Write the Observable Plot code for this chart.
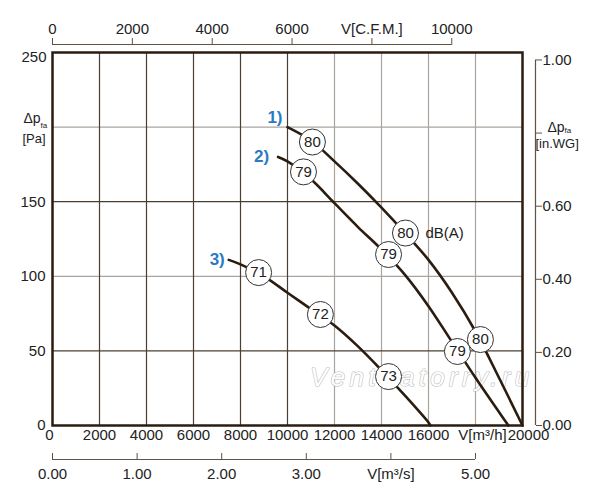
<!DOCTYPE html>
<html><head><meta charset="utf-8">
<script src="https://cdn.jsdelivr.net/npm/d3@7"></script>
<script src="https://cdn.jsdelivr.net/npm/@observablehq/plot@0.6"></script>
<style>body{margin:0;background:#fff} #chart{width:600px;height:500px}</style>
</head><body><div id="chart"></div>
<script>
// ---- data ----
const curve1Flow = [10000, 11000, 12000, 13000, 14000, 15000, 16000, 17000, 18000, 19000, 20000];
const curve1Pa   = [200, 191, 177, 162, 146, 129, 111, 89, 63, 32, 0];
const curve2Flow = [9600, 10000, 11000, 12000, 13000, 14000, 15000, 16000, 17000, 18000, 19000, 19400];
const curve2Pa   = [180, 177, 165, 149, 133, 118, 101, 80, 56, 32, 9, 0];
const curve3Flow = [7500, 8000, 9000, 10000, 11000, 12000, 13000, 14000, 15000, 16000, 16080];
const curve3Pa   = [111, 108, 100, 89, 78, 67, 53, 37, 20, 2, 0];

const db1Flow = [11060, 15020, 18210], db1Pa = [190, 129, 57.6], db1Val = [80, 80, 80];
const db2Flow = [10680, 14300, 17230], db2Pa = [170, 114.6, 49.6], db2Val = [79, 79, 79];
const db3Flow = [8770, 11400, 14300],  db3Pa = [102.5, 74.4, 32.8], db3Val = [71, 72, 73];
const seriesNames = ["1)", "2)", "3)"];

const flowTicks = [0, 2000, 4000, 6000, 8000, 10000, 12000, 14000, 16000];
const flowUnitTick = 18000, flowUnitLabel = "V[m³/h]", flowEndTick = 20000;
const paTicks = [150, 100, 50, 0];
const paTop = 250, paUnitTick = 200;
const cfmTicks = [0, 2000, 4000, 6000, 8000, 10000];
const cfmLabels = ["0", "2000", "4000", "6000", "V[C.F.M.]", "10000"];
const m3sTicks = [0, 1, 2, 3, 4, 5];
const m3sLabels = ["0.00", "1.00", "2.00", "3.00", "V[m³/s]", "5.00"];
const inwgTicks = [0, 0.2, 0.4, 0.6, 0.8, 1.0];
const inwgLabels = ["0.00", "0.20", "0.40", "0.60", "", "1.00"];
const gridDarkX = [2000, 4000, 6000, 8000, 10000];
const gridLightX = [12000, 14000, 16000, 18000];
const gridDarkY = [50, 150];
const gridLightY = [100, 200];

const M3H_PER_CFM = 1.699, M3H_PER_M3S = 3600, PA_PER_INWG = 245;

// ---- build ----
const pts = (xs, ys) => xs.map((x, i) => ({x, y: ys[i]}));
const lab = (xs, ys, vs) => xs.map((x, i) => ({x, y: ys[i], v: vs[i]}));
const s1 = pts(curve1Flow, curve1Pa), s2 = pts(curve2Flow, curve2Pa), s3 = pts(curve3Flow, curve3Pa);
const dbs = [...lab(db1Flow, db1Pa, db1Val), ...lab(db2Flow, db2Pa, db2Val), ...lab(db3Flow, db3Pa, db3Val)];
const cfmPos = cfmTicks.map(c => c * M3H_PER_CFM);
const cfmMap = new Map(cfmPos.map((p, i) => [p, cfmLabels[i]]));
const m3sPos = m3sTicks.map(s => s * M3H_PER_M3S);
const m3sMap = new Map(m3sPos.map((p, i) => [p, m3sLabels[i]]));
const inwgPos = inwgTicks.map(v => v * PA_PER_INWG);
const inwgMap = new Map(inwgPos.map((p, i) => [p, inwgLabels[i]]));

const DARK = "#2a1d10", AX = "#5e5246", TXT = "#222";
const blue = "#2b7bc4";
const str = d => String(d);

const chart = Plot.plot({
  width: 600, height: 500,
  marginLeft: 52, marginRight: 78, marginTop: 52, marginBottom: 75,
  x: {domain: [0, 20000], axis: null},
  y: {domain: [0, 250], axis: null},
  style: {fontFamily: "'Liberation Sans', Arial, sans-serif", color: TXT, background: "white", overflow: "visible"},
  marks: [
    Plot.ruleX(gridLightX, {stroke: "#a9a49d", strokeWidth: 1.2}),
    Plot.ruleY(gridLightY, {stroke: "#a9a49d", strokeWidth: 1.2}),
    Plot.ruleX(gridDarkX, {stroke: "#4a3e32", strokeWidth: 1.2}),
    Plot.ruleY(gridDarkY, {stroke: "#4a3e32", strokeWidth: 1.2}),
    Plot.text(["Ventilatorry.ru"], {frameAnchor: "bottom-right", textAnchor: "end", dx: 11, dy: -40,
      fontSize: 26, fontStyle: "italic", fill: "white", stroke: "#bdbdbd", strokeWidth: 1.2}),
    Plot.line(s1, {x: "x", y: "y", curve: "catmull-rom", stroke: DARK, strokeWidth: 2.6}),
    Plot.line(s2, {x: "x", y: "y", curve: "catmull-rom", stroke: DARK, strokeWidth: 2.6}),
    Plot.line(s3, {x: "x", y: "y", curve: "catmull-rom", stroke: DARK, strokeWidth: 2.6}),
    Plot.frame({stroke: DARK, strokeWidth: 2.5}),
    Plot.dot(dbs, {x: "x", y: "y", r: 13, fill: "white", stroke: "#333", strokeWidth: 1}),
    Plot.text(dbs, {x: "x", y: "y", text: d => String(d.v), fontSize: 15, fill: TXT}),
    Plot.text([db1Val[1]], {x: db1Flow[1], y: db1Pa[1], text: () => "dB(A)", textAnchor: "start", dx: 20, fontSize: 15, fill: TXT}),
    // series labels
    Plot.text([seriesNames[0]], {x: curve1Flow[0], y: curve1Pa[0], textAnchor: "end", dx: -5, dy: -10, fontSize: 17, fontWeight: "bold", fill: blue}),
    Plot.text([seriesNames[1]], {x: curve2Flow[0], y: curve2Pa[0], textAnchor: "end", dx: -9, dy: 0, fontSize: 17, fontWeight: "bold", fill: blue}),
    Plot.text([seriesNames[2]], {x: curve3Flow[0], y: curve3Pa[0], textAnchor: "end", dx: -4, dy: 0, fontSize: 17, fontWeight: "bold", fill: blue}),
    // bottom m3/h labels
    Plot.text(flowTicks.slice(1), {x: d => d, text: str, frameAnchor: "bottom", dy: 14, fontSize: 15, fill: TXT}),
    Plot.text(flowTicks.slice(0, 1), {x: d => d, text: str, frameAnchor: "bottom", dy: 14, dx: -3, fontSize: 15, fill: TXT}),
    Plot.text([flowUnitLabel], {x: flowUnitTick, frameAnchor: "bottom", dy: 14, dx: 7, fontSize: 15, fill: TXT}),
    Plot.text([flowEndTick], {x: d => d, text: str, frameAnchor: "bottom", dy: 14, dx: 6, fontSize: 15, fill: TXT}),
    // left Pa labels
    Plot.text(paTicks, {y: d => d, text: str, frameAnchor: "left", textAnchor: "end", dx: -7, fontSize: 15, fill: TXT}),
    Plot.text([paTop], {y: d => d, text: str, frameAnchor: "left", textAnchor: "end", dx: -6, dy: 5, fontSize: 15, fill: TXT}),
    Plot.text(["Δp"], {y: paUnitTick, frameAnchor: "left", textAnchor: "start", dx: -29, dy: -8.5, fontSize: 14, fill: TXT}),
    Plot.text(["fa"], {y: paUnitTick, frameAnchor: "left", textAnchor: "start", dx: -12, dy: -2, fontSize: 8, fill: TXT}),
    Plot.text(["[Pa]"], {y: paUnitTick, frameAnchor: "left", textAnchor: "start", dx: -30, dy: 11.5, fontSize: 13, fill: TXT}),
    // top CFM axis
    Plot.ruleY([paTop], {x1: cfmPos[0], x2: cfmPos[cfmPos.length - 1], dy: -8, stroke: AX, strokeWidth: 1.2}),
    Plot.axisX(cfmPos, {anchor: "top", label: null, tickSize: 7, tickPadding: 4, dy: -8, tickFormat: d => cfmMap.get(d), fontSize: 15, stroke: AX, fill: TXT}),
    // bottom m3/s axis
    Plot.ruleY([0], {x1: m3sPos[0], x2: m3sPos[m3sPos.length - 1], dy: 34, stroke: AX, strokeWidth: 1.2}),
    Plot.axisX(m3sPos, {anchor: "bottom", label: null, tickSize: 6, tickPadding: 9, dy: 28, tickFormat: d => m3sMap.get(d), fontSize: 15, stroke: AX, fill: TXT}),
    // right in.WG axis
    Plot.ruleX([20000], {y1: inwgPos[0], y2: inwgPos[inwgPos.length - 1], dx: 13, stroke: AX, strokeWidth: 1.2}),
    Plot.axisY(inwgPos, {anchor: "right", label: null, tickSize: 6, tickPadding: 1, dx: 13, tickFormat: d => inwgMap.get(d), fontSize: 15, stroke: AX, fill: TXT}),
    Plot.text(["Δp"], {y: inwgPos[4], frameAnchor: "right", textAnchor: "start", dx: 25, dy: -5.5, fontSize: 14, fill: TXT}),
    Plot.text(["fa"], {y: inwgPos[4], frameAnchor: "right", textAnchor: "start", dx: 42, dy: -3, fontSize: 8, fill: TXT}),
    Plot.text(["[in.WG]"], {y: inwgPos[4], frameAnchor: "right", textAnchor: "start", dx: 13, dy: 10.5, fontSize: 13, fill: TXT})
  ]
});
document.getElementById("chart").appendChild(chart);
// widen the watermark lettering
d3.select(chart).selectAll("text").filter(function() { return this.textContent === "Ventilatorry.ru"; })
  .style("letter-spacing", "4.3px");
</script></body></html>
